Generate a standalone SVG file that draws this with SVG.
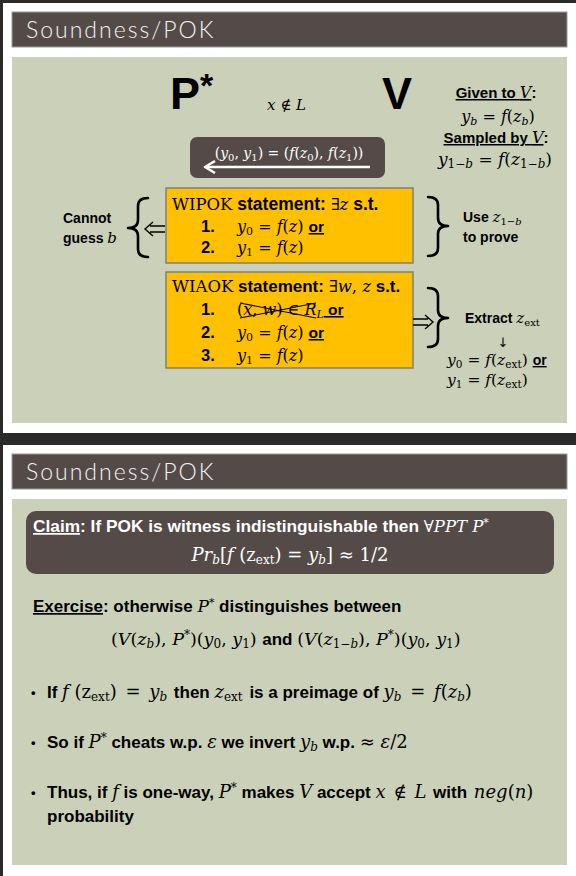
<svg xmlns="http://www.w3.org/2000/svg" width="576" height="876" viewBox="0 0 576 876">
<style>
.b{font-family:"Liberation Sans",Arial,sans-serif;font-weight:bold;font-style:normal}
.m{font-family:"DejaVu Serif","Liberation Serif",serif;font-style:normal;font-weight:normal}
.i{font-family:"DejaVu Serif","Liberation Serif",serif;font-style:italic;font-weight:normal}
.ti{font-family:Lato,"DejaVu Sans",sans-serif;font-weight:300;font-size:23px;letter-spacing:2px;fill:#f4f4f4}
.bar{fill:#544b49;stroke:#9a9a9a;stroke-width:1}
.green{fill:#cbd1b9}
.obox{fill:#ffc000;stroke:#7f7f7f;stroke-width:1.5}
.brace{fill:none;stroke:#000;stroke-width:2.6;stroke-linecap:round;stroke-linejoin:round}
.dbl{fill:none;stroke:#000;stroke-width:1.4}
.u{text-decoration:underline}
</style>
<rect width="576" height="876" fill="#2a2a2a"/>
<g id="slide1">
<rect x="3" y="3" width="573" height="430" fill="#fff"/>
<rect class="bar" x="12" y="12" width="555" height="35"/>
<text class="ti" x="26" y="38">Soundness/POK</text>
<rect class="green" x="12" y="57" width="555" height="366"/>
</g>
<g id="slide2">
<rect x="3" y="445" width="573" height="431" fill="#fff"/>
<rect class="bar" x="12" y="454" width="555" height="35"/>
<text class="ti" x="26" y="480">Soundness/POK</text>
<rect class="green" x="12" y="499" width="555" height="366"/>
</g>

<g id="prover">
<text class="b" x="170" y="109" font-size="45">P<tspan font-size="34" dy="-12">*</tspan></text>
</g>
<g id="verifier">
<text class="b" x="382" y="109" font-size="45">V</text>
</g>
<g id="xnotinL">
<text class="m" x="267" y="110" font-size="15"><tspan class="i">x</tspan> ∉ <tspan class="i">L</tspan></text>
</g>
<g id="message">
<rect x="190" y="137" width="195" height="41" rx="7" fill="#544b49"/>
<text class="m" x="289" y="158" font-size="14" fill="#fff" text-anchor="middle">(<tspan class="i">y</tspan><tspan font-size="10" dy="3">0</tspan><tspan dy="-3">, </tspan><tspan class="i">y</tspan><tspan font-size="10" dy="3">1</tspan><tspan dy="-3">) = (</tspan><tspan class="i">f</tspan>(<tspan class="i">z</tspan><tspan font-size="10" dy="3">0</tspan><tspan dy="-3">), </tspan><tspan class="i">f</tspan>(<tspan class="i">z</tspan><tspan font-size="10" dy="3">1</tspan><tspan dy="-3">))</tspan></text>
</g>
<g id="given">
<text x="496" y="98" font-size="15" text-anchor="middle"><tspan class="b u">Given to </tspan><tspan class="i u" font-size="16">V</tspan><tspan class="b">:</tspan></text>
<text class="m" x="498" y="122" font-size="16" text-anchor="middle"><tspan class="i">y</tspan><tspan class="i" font-size="11" dy="3">b</tspan><tspan dy="-3"> = </tspan><tspan class="i">f</tspan>(<tspan class="i" font-weight="bold">z</tspan><tspan class="i" font-weight="bold" font-size="11" dy="3">b</tspan><tspan dy="-3">)</tspan></text>
<text x="496" y="143" font-size="15" text-anchor="middle"><tspan class="b u">Sampled by </tspan><tspan class="i u" font-size="16">V</tspan><tspan class="b">:</tspan></text>
<text class="m" x="495" y="165" font-size="17" text-anchor="middle"><tspan class="i">y</tspan><tspan font-size="12" dy="3">1−</tspan><tspan class="i" font-size="12">b</tspan><tspan dy="-3"> = </tspan><tspan class="i">f</tspan>(<tspan class="i">z</tspan><tspan font-size="12" dy="3">1−</tspan><tspan class="i" font-size="12">b</tspan><tspan dy="-3">)</tspan></text>
</g>

<g id="wipok">
<rect class="obox" x="166" y="188" width="247" height="75"/>
<text x="172" y="210" font-size="17.5"><tspan class="m" font-size="16.5">WIPOK</tspan><tspan class="b"> statement: </tspan><tspan class="m" font-size="16.5">∃</tspan><tspan class="i" font-size="16.5">z</tspan><tspan class="b"> s.t.</tspan></text>
<text class="b" x="201" y="232" font-size="16.5">1.</text>
<text x="237" y="232" font-size="16"><tspan class="i">y</tspan><tspan class="m" font-size="11" dy="3">0</tspan><tspan class="m" dy="-3"> = </tspan><tspan class="i">f</tspan><tspan class="m">(</tspan><tspan class="i">z</tspan><tspan class="m">) </tspan><tspan class="b u" font-size="15.5">or</tspan></text>
<text class="b" x="201" y="253" font-size="16.5">2.</text>
<text x="237" y="253" font-size="16"><tspan class="i">y</tspan><tspan class="m" font-size="11" dy="3">1</tspan><tspan class="m" dy="-3"> = </tspan><tspan class="i">f</tspan><tspan class="m">(</tspan><tspan class="i">z</tspan><tspan class="m">)</tspan></text>
</g>

<g id="wiaok">
<rect class="obox" x="166" y="272" width="247" height="96"/>
<text x="172" y="292" font-size="17"><tspan class="m" font-size="16.5">WIAOK</tspan><tspan class="b"> statement: </tspan><tspan class="m" font-size="16.5">∃</tspan><tspan class="i" font-size="16.5">w</tspan><tspan class="m" font-size="16.5">, </tspan><tspan class="i" font-size="16.5">z</tspan><tspan class="b"> s.t.</tspan></text>
<text class="b" x="201" y="315" font-size="16.5">1.</text>
<text x="237" y="315" font-size="16"><tspan class="m">(</tspan><tspan class="i">x</tspan><tspan class="m">, </tspan><tspan class="i">w</tspan><tspan class="m">) ∈ </tspan><tspan class="i">R</tspan><tspan class="i" font-size="11" dy="3">L</tspan><tspan class="b u" font-size="15.5" dy="-3"> or</tspan></text>
<path d="M240,303 L316,318 M240,318 L316,303" stroke="#000" stroke-width="1.2" fill="none"/>
<text class="b" x="201" y="338" font-size="16.5">2.</text>
<text x="237" y="338" font-size="16"><tspan class="i">y</tspan><tspan class="m" font-size="11" dy="3">0</tspan><tspan class="m" dy="-3"> = </tspan><tspan class="i">f</tspan><tspan class="m">(</tspan><tspan class="i">z</tspan><tspan class="m">) </tspan><tspan class="b u" font-size="15.5">or</tspan></text>
<text class="b" x="201" y="361" font-size="16.5">3.</text>
<text x="237" y="361" font-size="16"><tspan class="i">y</tspan><tspan class="m" font-size="11" dy="3">1</tspan><tspan class="m" dy="-3"> = </tspan><tspan class="i">f</tspan><tspan class="m">(</tspan><tspan class="i">z</tspan><tspan class="m">)</tspan></text>
</g>

<g id="cannot-guess">
<text class="b" x="63" y="223" font-size="14">Cannot</text>
<text x="63" y="243" font-size="14"><tspan class="b">guess </tspan><tspan class="i" font-size="15">b</tspan></text>
</g>
<g id="use-z">
<text x="463" y="222" font-size="14"><tspan class="b">Use </tspan><tspan class="i" font-size="15">z</tspan><tspan class="m" font-size="10" dy="3">1−</tspan><tspan class="i" font-size="10">b</tspan></text>
<text class="b" x="463" y="242" font-size="14">to prove</text>
</g>
<g id="extract">
<text x="465" y="323" font-size="14"><tspan class="b">Extract </tspan><tspan class="i" font-size="15">z</tspan><tspan class="m" font-size="10" dy="3">ext</tspan></text>
<text x="503" y="347" font-size="13" text-anchor="middle" fill="#000" font-family="'DejaVu Sans',sans-serif">&#8595;&#xFE0E;</text>
<text x="447" y="365" font-size="15.5"><tspan class="i">y</tspan><tspan class="m" font-size="10.5" dy="3">0</tspan><tspan class="m" dy="-3"> = </tspan><tspan class="i">f</tspan><tspan class="m">(</tspan><tspan class="i">z</tspan><tspan class="m" font-size="10.5" dy="3">ext</tspan><tspan class="m" dy="-3">) </tspan><tspan class="b u" font-size="14">or</tspan></text>
<text x="447" y="385" font-size="15.5"><tspan class="i">y</tspan><tspan class="m" font-size="10.5" dy="3">1</tspan><tspan class="m" dy="-3"> = </tspan><tspan class="i">f</tspan><tspan class="m">(</tspan><tspan class="i">z</tspan><tspan class="m" font-size="10.5" dy="3">ext</tspan><tspan class="m" dy="-3">)</tspan></text>
</g>

<g id="connectors">
<line x1="370" y1="167" x2="206" y2="167" stroke="#fff" stroke-width="2.5"/>
<path d="M215,161 L205,167 L215,173" fill="none" stroke="#fff" stroke-width="2.5" stroke-linejoin="round"/>
<path class="brace" d="M148,198 Q138,198 138,206 L138,220 Q138,228 128,228 Q138,228 138,236 L138,249 Q138,257 148,257"/>
<path class="dbl" d="M165,226 L150,226 M165,232 L150,232 M153,222 L145,229 L153,236"/>
<path class="brace" d="M428,197 Q438,197 438,205 L438,218 Q438,226 448,226 Q438,226 438,234 L438,248 Q438,256 428,256"/>
<path class="brace" d="M428,288 Q438,288 438,296 L438,310 Q438,318 448,318 Q438,318 438,326 L438,339 Q438,347 428,347"/>
<path class="dbl" d="M413,319 L428,319 M413,325 L428,325 M425,315 L433,322 L425,329"/>
</g>

<g id="claim">
<rect x="26" y="511" width="528" height="63" rx="10" fill="#544b49"/>
<text x="33" y="532" font-size="17.3" fill="#fff"><tspan class="b u">Claim</tspan><tspan class="b">: If POK is witness indistinguishable then </tspan><tspan class="m" font-size="16.5">∀</tspan><tspan class="i" font-size="16.5">PPT P</tspan><tspan class="m" font-size="11" dy="-6">*</tspan></text>
<text x="290" y="561" font-size="18" fill="#fff" text-anchor="middle"><tspan class="i">Pr</tspan><tspan class="i" font-size="12" dy="3">b</tspan><tspan class="m" dy="-3">[</tspan><tspan class="i">f</tspan><tspan class="m"> (z</tspan><tspan class="m" font-size="12" dy="3">ext</tspan><tspan class="m" dy="-3">) = </tspan><tspan class="i">y</tspan><tspan class="i" font-size="12" dy="3">b</tspan><tspan class="m" dy="-3">] ≈ 1/2</tspan></text>
</g>
<g id="exercise">
<text x="33" y="612" font-size="17"><tspan class="b u">Exercise</tspan><tspan class="b">: otherwise </tspan><tspan class="i" font-size="17">P</tspan><tspan class="m" font-size="11" dy="-6">*</tspan><tspan class="b" dy="6"> distinguishes between</tspan></text>
<text x="111" y="645" font-size="17.5"><tspan class="m">(</tspan><tspan class="i">V</tspan><tspan class="m">(</tspan><tspan class="i">z</tspan><tspan class="i" font-size="12" dy="3">b</tspan><tspan class="m" dy="-3">), </tspan><tspan class="i">P</tspan><tspan class="m" font-size="12" dy="-6">*</tspan><tspan class="m" dy="6">)(</tspan><tspan class="i">y</tspan><tspan class="m" font-size="12" dy="3">0</tspan><tspan class="m" dy="-3">, </tspan><tspan class="i">y</tspan><tspan class="m" font-size="12" dy="3">1</tspan><tspan class="m" dy="-3">) </tspan><tspan class="b" font-size="17">and </tspan><tspan class="m">(</tspan><tspan class="i">V</tspan><tspan class="m">(</tspan><tspan class="i">z</tspan><tspan class="m" font-size="12" dy="3">1−</tspan><tspan class="i" font-size="12">b</tspan><tspan class="m" dy="-3">), </tspan><tspan class="i">P</tspan><tspan class="m" font-size="12" dy="-6">*</tspan><tspan class="m" dy="6">)(</tspan><tspan class="i">y</tspan><tspan class="m" font-size="12" dy="3">0</tspan><tspan class="m" dy="-3">, </tspan><tspan class="i">y</tspan><tspan class="m" font-size="12" dy="3">1</tspan><tspan class="m" dy="-3">)</tspan></text>
</g>
<g id="bullet1">
<text class="b" x="31" y="697" font-size="13">•</text>
<text x="47" y="698" font-size="17"><tspan class="b">If </tspan><tspan class="i" font-size="18">f</tspan><tspan class="m" font-size="18"> (z</tspan><tspan class="m" font-size="12" dy="3">ext</tspan><tspan class="m" font-size="18" dy="-3">) </tspan><tspan class="m" font-size="18" dx="3">= </tspan><tspan class="i" font-size="18" dx="3">y</tspan><tspan class="i" font-size="12" dy="3">b</tspan><tspan class="b" dy="-3" dx="2"> then </tspan><tspan class="i" font-size="18">z</tspan><tspan class="m" font-size="12" dy="3">ext</tspan><tspan class="b" dy="-3" dx="2"> is a preimage of </tspan><tspan class="i" font-size="18">y</tspan><tspan class="i" font-size="12" dy="3">b</tspan><tspan class="m" font-size="18" dy="-3" dx="3"> = </tspan><tspan class="i" font-size="18" dx="3">f</tspan><tspan class="m" font-size="18">(</tspan><tspan class="i" font-size="18" font-weight="bold">z</tspan><tspan class="i" font-size="12" font-weight="bold" dy="3">b</tspan><tspan class="m" font-size="18" dy="-3">)</tspan></text>
</g>
<g id="bullet2">
<text class="b" x="31" y="747" font-size="13">•</text>
<text x="47" y="748" font-size="17"><tspan class="b">So if </tspan><tspan class="i" font-size="18">P</tspan><tspan class="m" font-size="12" dy="-6">*</tspan><tspan class="b" dy="6"> cheats w.p. </tspan><tspan class="i" font-size="18">ε</tspan><tspan class="b"> we invert </tspan><tspan class="i" font-size="18">y</tspan><tspan class="i" font-size="12" dy="3">b</tspan><tspan class="b" dy="-3"> w.p. </tspan><tspan class="m" font-size="18">≈ </tspan><tspan class="i" font-size="18">ε</tspan><tspan class="m" font-size="18">/2</tspan></text>
</g>
<g id="bullet3">
<text class="b" x="31" y="797" font-size="13">•</text>
<text x="47" y="798" font-size="17"><tspan class="b">Thus, if </tspan><tspan class="i" font-size="18">f</tspan><tspan class="b"> is one-way, </tspan><tspan class="i" font-size="18">P</tspan><tspan class="m" font-size="12" dy="-6">*</tspan><tspan class="b" dy="6"> makes </tspan><tspan class="i" font-size="18">V</tspan><tspan class="b"> accept </tspan><tspan class="i" font-size="18">x</tspan><tspan class="m" font-size="18" dx="2"> ∉ </tspan><tspan class="i" font-size="18" dx="2">L</tspan><tspan class="b" dx="2"> with </tspan><tspan class="i" font-size="18" dx="2">neg</tspan><tspan class="m" font-size="18">(</tspan><tspan class="i" font-size="18">n</tspan><tspan class="m" font-size="18">)</tspan></text>
<text class="b" x="47" y="822" font-size="17">probability</text>
</g>
</svg>
